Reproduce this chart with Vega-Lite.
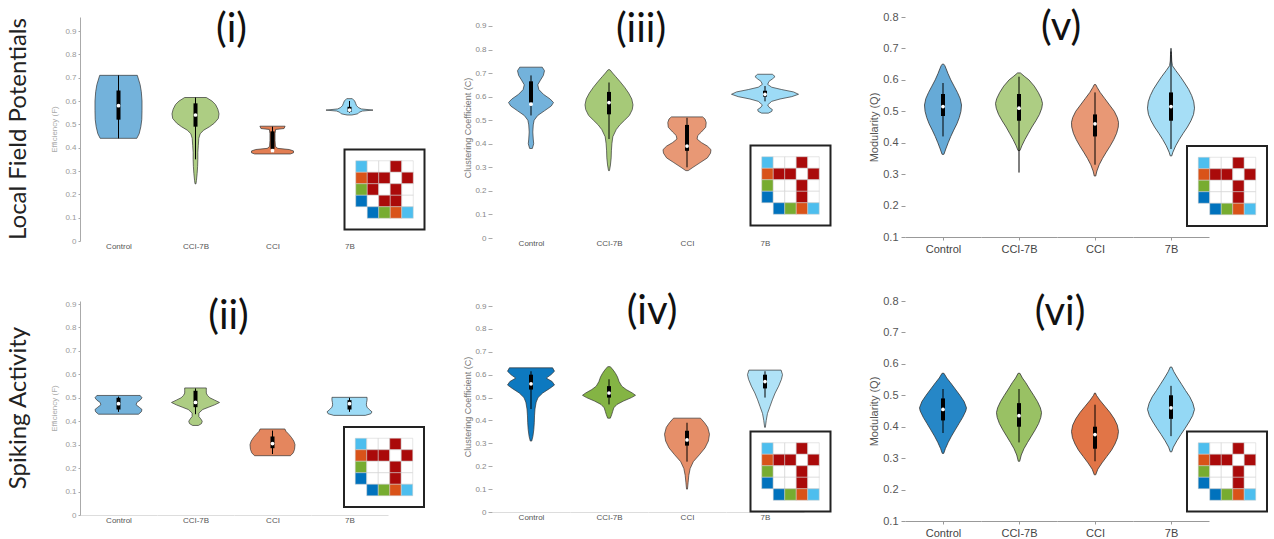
{
"$schema":"https://vega.github.io/schema/vega-lite/v6.json",
"background":"#ffffff",
"padding":{"left":6,"top":8,"right":4,"bottom":0},
"config":{"view":{"stroke":null},
 "axisX":{"labels":false,"ticks":false,"domain":false,"grid":false,"titleFontSize":8,"titleColor":"#555","titleFontWeight":"normal","titleFont":"Liberation Sans"},
 "axisY":{"grid":false,"labelOverlap":false,"titleFontWeight":"normal","titleFont":"Liberation Sans","labelFont":"Liberation Sans"}},
"datasets":{
"viol":[
{"p":"i","g":"Control","v":0.44,"d":0.78},{"p":"i","g":"Control","v":0.46,"d":0.88},{"p":"i","g":"Control","v":0.49,"d":0.95},{"p":"i","g":"Control","v":0.52,"d":0.99},{"p":"i","g":"Control","v":0.56,"d":1},{"p":"i","g":"Control","v":0.6,"d":1},{"p":"i","g":"Control","v":0.64,"d":0.97},{"p":"i","g":"Control","v":0.67,"d":0.92},{"p":"i","g":"Control","v":0.69,"d":0.86},{"p":"i","g":"Control","v":0.71,"d":0.8},
{"p":"i","g":"CCI-7B","v":0.245,"d":0.02},{"p":"i","g":"CCI-7B","v":0.26,"d":0.04},{"p":"i","g":"CCI-7B","v":0.29,"d":0.07},{"p":"i","g":"CCI-7B","v":0.32,"d":0.09},{"p":"i","g":"CCI-7B","v":0.35,"d":0.1},{"p":"i","g":"CCI-7B","v":0.38,"d":0.1},{"p":"i","g":"CCI-7B","v":0.41,"d":0.12},{"p":"i","g":"CCI-7B","v":0.44,"d":0.14},{"p":"i","g":"CCI-7B","v":0.46,"d":0.2},{"p":"i","g":"CCI-7B","v":0.475,"d":0.35},{"p":"i","g":"CCI-7B","v":0.49,"d":0.6},{"p":"i","g":"CCI-7B","v":0.505,"d":0.8},{"p":"i","g":"CCI-7B","v":0.525,"d":0.97},{"p":"i","g":"CCI-7B","v":0.545,"d":1},{"p":"i","g":"CCI-7B","v":0.565,"d":0.95},{"p":"i","g":"CCI-7B","v":0.585,"d":0.85},{"p":"i","g":"CCI-7B","v":0.6,"d":0.7},{"p":"i","g":"CCI-7B","v":0.615,"d":0.46},
{"p":"i","g":"CCI","v":0.373,"d":0.85},{"p":"i","g":"CCI","v":0.378,"d":1},{"p":"i","g":"CCI","v":0.386,"d":1},{"p":"i","g":"CCI","v":0.392,"d":0.8},{"p":"i","g":"CCI","v":0.397,"d":0.25},{"p":"i","g":"CCI","v":0.405,"d":0.14},{"p":"i","g":"CCI","v":0.43,"d":0.12},{"p":"i","g":"CCI","v":0.46,"d":0.12},{"p":"i","g":"CCI","v":0.478,"d":0.15},{"p":"i","g":"CCI","v":0.482,"d":0.55},{"p":"i","g":"CCI","v":0.492,"d":0.6},
{"p":"i","g":"7B","v":0.54,"d":0.1},{"p":"i","g":"7B","v":0.545,"d":0.35},{"p":"i","g":"7B","v":0.552,"d":0.42},{"p":"i","g":"7B","v":0.557,"d":0.55},{"p":"i","g":"7B","v":0.561,"d":1},{"p":"i","g":"7B","v":0.566,"d":0.5},{"p":"i","g":"7B","v":0.572,"d":0.38},{"p":"i","g":"7B","v":0.58,"d":0.3},{"p":"i","g":"7B","v":0.59,"d":0.26},{"p":"i","g":"7B","v":0.6,"d":0.22},{"p":"i","g":"7B","v":0.61,"d":0.12},
{"p":"ii","g":"Control","v":0.43,"d":0.85},{"p":"ii","g":"Control","v":0.44,"d":0.97},{"p":"ii","g":"Control","v":0.45,"d":1},{"p":"ii","g":"Control","v":0.46,"d":0.88},{"p":"ii","g":"Control","v":0.47,"d":0.75},{"p":"ii","g":"Control","v":0.48,"d":0.78},{"p":"ii","g":"Control","v":0.49,"d":0.92},{"p":"ii","g":"Control","v":0.5,"d":1},{"p":"ii","g":"Control","v":0.51,"d":0.92},
{"p":"ii","g":"CCI-7B","v":0.382,"d":0.12},{"p":"ii","g":"CCI-7B","v":0.39,"d":0.25},{"p":"ii","g":"CCI-7B","v":0.4,"d":0.28},{"p":"ii","g":"CCI-7B","v":0.41,"d":0.22},{"p":"ii","g":"CCI-7B","v":0.42,"d":0.14},{"p":"ii","g":"CCI-7B","v":0.435,"d":0.14},{"p":"ii","g":"CCI-7B","v":0.45,"d":0.3},{"p":"ii","g":"CCI-7B","v":0.46,"d":0.55},{"p":"ii","g":"CCI-7B","v":0.47,"d":0.8},{"p":"ii","g":"CCI-7B","v":0.48,"d":1},{"p":"ii","g":"CCI-7B","v":0.49,"d":0.8},{"p":"ii","g":"CCI-7B","v":0.5,"d":0.6},{"p":"ii","g":"CCI-7B","v":0.51,"d":0.5},{"p":"ii","g":"CCI-7B","v":0.52,"d":0.45},{"p":"ii","g":"CCI-7B","v":0.53,"d":0.45},{"p":"ii","g":"CCI-7B","v":0.542,"d":0.45},
{"p":"ii","g":"CCI","v":0.253,"d":0.8},{"p":"ii","g":"CCI","v":0.265,"d":0.92},{"p":"ii","g":"CCI","v":0.28,"d":0.98},{"p":"ii","g":"CCI","v":0.3,"d":1},{"p":"ii","g":"CCI","v":0.315,"d":0.95},{"p":"ii","g":"CCI","v":0.33,"d":0.85},{"p":"ii","g":"CCI","v":0.345,"d":0.72},{"p":"ii","g":"CCI","v":0.357,"d":0.6},{"p":"ii","g":"CCI","v":0.367,"d":0.55},
{"p":"ii","g":"7B","v":0.425,"d":0.7},{"p":"ii","g":"7B","v":0.432,"d":0.95},{"p":"ii","g":"7B","v":0.44,"d":1},{"p":"ii","g":"7B","v":0.45,"d":0.88},{"p":"ii","g":"7B","v":0.46,"d":0.78},{"p":"ii","g":"7B","v":0.47,"d":0.75},{"p":"ii","g":"7B","v":0.48,"d":0.76},{"p":"ii","g":"7B","v":0.49,"d":0.78},{"p":"ii","g":"7B","v":0.502,"d":0.78},
{"p":"iii","g":"Control","v":0.38,"d":0.06},{"p":"iii","g":"Control","v":0.4,"d":0.12},{"p":"iii","g":"Control","v":0.42,"d":0.1},{"p":"iii","g":"Control","v":0.45,"d":0.08},{"p":"iii","g":"Control","v":0.48,"d":0.1},{"p":"iii","g":"Control","v":0.5,"d":0.14},{"p":"iii","g":"Control","v":0.52,"d":0.3},{"p":"iii","g":"Control","v":0.54,"d":0.6},{"p":"iii","g":"Control","v":0.56,"d":0.9},{"p":"iii","g":"Control","v":0.575,"d":1},{"p":"iii","g":"Control","v":0.59,"d":0.85},{"p":"iii","g":"Control","v":0.61,"d":0.55},{"p":"iii","g":"Control","v":0.63,"d":0.35},{"p":"iii","g":"Control","v":0.65,"d":0.3},{"p":"iii","g":"Control","v":0.67,"d":0.42},{"p":"iii","g":"Control","v":0.69,"d":0.55},{"p":"iii","g":"Control","v":0.71,"d":0.6},{"p":"iii","g":"Control","v":0.725,"d":0.5},
{"p":"iii","g":"CCI-7B","v":0.286,"d":0.02},{"p":"iii","g":"CCI-7B","v":0.31,"d":0.06},{"p":"iii","g":"CCI-7B","v":0.34,"d":0.09},{"p":"iii","g":"CCI-7B","v":0.37,"d":0.1},{"p":"iii","g":"CCI-7B","v":0.4,"d":0.12},{"p":"iii","g":"CCI-7B","v":0.43,"d":0.16},{"p":"iii","g":"CCI-7B","v":0.46,"d":0.3},{"p":"iii","g":"CCI-7B","v":0.48,"d":0.45},{"p":"iii","g":"CCI-7B","v":0.5,"d":0.65},{"p":"iii","g":"CCI-7B","v":0.52,"d":0.85},{"p":"iii","g":"CCI-7B","v":0.545,"d":0.97},{"p":"iii","g":"CCI-7B","v":0.565,"d":1},{"p":"iii","g":"CCI-7B","v":0.59,"d":0.95},{"p":"iii","g":"CCI-7B","v":0.615,"d":0.82},{"p":"iii","g":"CCI-7B","v":0.64,"d":0.65},{"p":"iii","g":"CCI-7B","v":0.665,"d":0.45},{"p":"iii","g":"CCI-7B","v":0.685,"d":0.28},{"p":"iii","g":"CCI-7B","v":0.7,"d":0.15},{"p":"iii","g":"CCI-7B","v":0.714,"d":0.04},
{"p":"iii","g":"CCI","v":0.286,"d":0.05},{"p":"iii","g":"CCI","v":0.3,"d":0.25},{"p":"iii","g":"CCI","v":0.32,"d":0.55},{"p":"iii","g":"CCI","v":0.34,"d":0.85},{"p":"iii","g":"CCI","v":0.36,"d":0.98},{"p":"iii","g":"CCI","v":0.375,"d":1},{"p":"iii","g":"CCI","v":0.39,"d":0.85},{"p":"iii","g":"CCI","v":0.405,"d":0.6},{"p":"iii","g":"CCI","v":0.42,"d":0.42},{"p":"iii","g":"CCI","v":0.435,"d":0.45},{"p":"iii","g":"CCI","v":0.45,"d":0.6},{"p":"iii","g":"CCI","v":0.47,"d":0.78},{"p":"iii","g":"CCI","v":0.49,"d":0.8},{"p":"iii","g":"CCI","v":0.505,"d":0.75},{"p":"iii","g":"CCI","v":0.514,"d":0.65},
{"p":"iii","g":"7B","v":0.53,"d":0.1},{"p":"iii","g":"7B","v":0.537,"d":0.2},{"p":"iii","g":"7B","v":0.545,"d":0.22},{"p":"iii","g":"7B","v":0.555,"d":0.12},{"p":"iii","g":"7B","v":0.565,"d":0.08},{"p":"iii","g":"7B","v":0.58,"d":0.2},{"p":"iii","g":"7B","v":0.59,"d":0.45},{"p":"iii","g":"7B","v":0.6,"d":0.8},{"p":"iii","g":"7B","v":0.61,"d":1},{"p":"iii","g":"7B","v":0.62,"d":0.85},{"p":"iii","g":"7B","v":0.63,"d":0.5},{"p":"iii","g":"7B","v":0.64,"d":0.2},{"p":"iii","g":"7B","v":0.652,"d":0.08},{"p":"iii","g":"7B","v":0.665,"d":0.12},{"p":"iii","g":"7B","v":0.675,"d":0.22},{"p":"iii","g":"7B","v":0.685,"d":0.3},{"p":"iii","g":"7B","v":0.695,"d":0.22},
{"p":"iv","g":"Control","v":0.31,"d":0.03},{"p":"iv","g":"Control","v":0.33,"d":0.08},{"p":"iv","g":"Control","v":0.36,"d":0.12},{"p":"iv","g":"Control","v":0.39,"d":0.14},{"p":"iv","g":"Control","v":0.42,"d":0.15},{"p":"iv","g":"Control","v":0.45,"d":0.17},{"p":"iv","g":"Control","v":0.48,"d":0.22},{"p":"iv","g":"Control","v":0.5,"d":0.3},{"p":"iv","g":"Control","v":0.52,"d":0.5},{"p":"iv","g":"Control","v":0.54,"d":0.8},{"p":"iv","g":"Control","v":0.555,"d":1},{"p":"iv","g":"Control","v":0.57,"d":0.9},{"p":"iv","g":"Control","v":0.585,"d":0.65},{"p":"iv","g":"Control","v":0.6,"d":0.85},{"p":"iv","g":"Control","v":0.615,"d":1},{"p":"iv","g":"Control","v":0.63,"d":0.92},
{"p":"iv","g":"CCI-7B","v":0.41,"d":0.05},{"p":"iv","g":"CCI-7B","v":0.425,"d":0.1},{"p":"iv","g":"CCI-7B","v":0.44,"d":0.14},{"p":"iv","g":"CCI-7B","v":0.455,"d":0.18},{"p":"iv","g":"CCI-7B","v":0.47,"d":0.3},{"p":"iv","g":"CCI-7B","v":0.485,"d":0.55},{"p":"iv","g":"CCI-7B","v":0.5,"d":0.85},{"p":"iv","g":"CCI-7B","v":0.51,"d":1},{"p":"iv","g":"CCI-7B","v":0.52,"d":0.88},{"p":"iv","g":"CCI-7B","v":0.535,"d":0.65},{"p":"iv","g":"CCI-7B","v":0.55,"d":0.48},{"p":"iv","g":"CCI-7B","v":0.57,"d":0.38},{"p":"iv","g":"CCI-7B","v":0.59,"d":0.32},{"p":"iv","g":"CCI-7B","v":0.605,"d":0.25},{"p":"iv","g":"CCI-7B","v":0.62,"d":0.16},{"p":"iv","g":"CCI-7B","v":0.635,"d":0.05},
{"p":"iv","g":"CCI","v":0.1,"d":0.02},{"p":"iv","g":"CCI","v":0.13,"d":0.05},{"p":"iv","g":"CCI","v":0.16,"d":0.08},{"p":"iv","g":"CCI","v":0.19,"d":0.14},{"p":"iv","g":"CCI","v":0.22,"d":0.28},{"p":"iv","g":"CCI","v":0.25,"d":0.55},{"p":"iv","g":"CCI","v":0.28,"d":0.8},{"p":"iv","g":"CCI","v":0.31,"d":0.95},{"p":"iv","g":"CCI","v":0.34,"d":1},{"p":"iv","g":"CCI","v":0.37,"d":0.92},{"p":"iv","g":"CCI","v":0.39,"d":0.78},{"p":"iv","g":"CCI","v":0.41,"d":0.6},
{"p":"iv","g":"7B","v":0.37,"d":0.02},{"p":"iv","g":"7B","v":0.4,"d":0.07},{"p":"iv","g":"7B","v":0.43,"d":0.14},{"p":"iv","g":"7B","v":0.46,"d":0.28},{"p":"iv","g":"7B","v":0.49,"d":0.42},{"p":"iv","g":"7B","v":0.52,"d":0.58},{"p":"iv","g":"7B","v":0.55,"d":0.78},{"p":"iv","g":"7B","v":0.58,"d":0.94},{"p":"iv","g":"7B","v":0.6,"d":1},{"p":"iv","g":"7B","v":0.62,"d":0.92},
{"p":"v","g":"Control","v":0.363,"d":0.05},{"p":"v","g":"Control","v":0.38,"d":0.15},{"p":"v","g":"Control","v":0.4,"d":0.28},{"p":"v","g":"Control","v":0.42,"d":0.42},{"p":"v","g":"Control","v":0.44,"d":0.58},{"p":"v","g":"Control","v":0.46,"d":0.75},{"p":"v","g":"Control","v":0.48,"d":0.88},{"p":"v","g":"Control","v":0.5,"d":0.97},{"p":"v","g":"Control","v":0.52,"d":1},{"p":"v","g":"Control","v":0.54,"d":0.93},{"p":"v","g":"Control","v":0.56,"d":0.78},{"p":"v","g":"Control","v":0.58,"d":0.6},{"p":"v","g":"Control","v":0.6,"d":0.42},{"p":"v","g":"Control","v":0.62,"d":0.27},{"p":"v","g":"Control","v":0.635,"d":0.17},{"p":"v","g":"Control","v":0.645,"d":0.1},{"p":"v","g":"Control","v":0.65,"d":0.04},
{"p":"v","g":"CCI-7B","v":0.375,"d":0.04},{"p":"v","g":"CCI-7B","v":0.39,"d":0.12},{"p":"v","g":"CCI-7B","v":0.41,"d":0.25},{"p":"v","g":"CCI-7B","v":0.43,"d":0.4},{"p":"v","g":"CCI-7B","v":0.45,"d":0.55},{"p":"v","g":"CCI-7B","v":0.47,"d":0.72},{"p":"v","g":"CCI-7B","v":0.49,"d":0.87},{"p":"v","g":"CCI-7B","v":0.51,"d":0.97},{"p":"v","g":"CCI-7B","v":0.525,"d":1},{"p":"v","g":"CCI-7B","v":0.54,"d":0.95},{"p":"v","g":"CCI-7B","v":0.56,"d":0.82},{"p":"v","g":"CCI-7B","v":0.58,"d":0.65},{"p":"v","g":"CCI-7B","v":0.6,"d":0.42},{"p":"v","g":"CCI-7B","v":0.61,"d":0.25},{"p":"v","g":"CCI-7B","v":0.622,"d":0.06},
{"p":"v","g":"CCI","v":0.294,"d":0.03},{"p":"v","g":"CCI","v":0.31,"d":0.08},{"p":"v","g":"CCI","v":0.33,"d":0.18},{"p":"v","g":"CCI","v":0.35,"d":0.32},{"p":"v","g":"CCI","v":0.37,"d":0.48},{"p":"v","g":"CCI","v":0.39,"d":0.65},{"p":"v","g":"CCI","v":0.41,"d":0.8},{"p":"v","g":"CCI","v":0.43,"d":0.92},{"p":"v","g":"CCI","v":0.45,"d":0.99},{"p":"v","g":"CCI","v":0.465,"d":1},{"p":"v","g":"CCI","v":0.48,"d":0.95},{"p":"v","g":"CCI","v":0.5,"d":0.82},{"p":"v","g":"CCI","v":0.52,"d":0.62},{"p":"v","g":"CCI","v":0.54,"d":0.42},{"p":"v","g":"CCI","v":0.56,"d":0.22},{"p":"v","g":"CCI","v":0.575,"d":0.1},{"p":"v","g":"CCI","v":0.585,"d":0.03},
{"p":"v","g":"7B","v":0.358,"d":0.03},{"p":"v","g":"7B","v":0.37,"d":0.08},{"p":"v","g":"7B","v":0.39,"d":0.2},{"p":"v","g":"7B","v":0.41,"d":0.35},{"p":"v","g":"7B","v":0.43,"d":0.52},{"p":"v","g":"7B","v":0.45,"d":0.7},{"p":"v","g":"7B","v":0.47,"d":0.85},{"p":"v","g":"7B","v":0.49,"d":0.96},{"p":"v","g":"7B","v":0.51,"d":1},{"p":"v","g":"7B","v":0.53,"d":0.97},{"p":"v","g":"7B","v":0.55,"d":0.88},{"p":"v","g":"7B","v":0.57,"d":0.75},{"p":"v","g":"7B","v":0.59,"d":0.58},{"p":"v","g":"7B","v":0.61,"d":0.4},{"p":"v","g":"7B","v":0.63,"d":0.2},{"p":"v","g":"7B","v":0.645,"d":0.06},{"p":"v","g":"7B","v":0.66,"d":0.03},{"p":"v","g":"7B","v":0.68,"d":0.02},{"p":"v","g":"7B","v":0.7,"d":0.01},
{"p":"vi","g":"Control","v":0.315,"d":0.03},{"p":"vi","g":"Control","v":0.33,"d":0.1},{"p":"vi","g":"Control","v":0.35,"d":0.22},{"p":"vi","g":"Control","v":0.37,"d":0.36},{"p":"vi","g":"Control","v":0.39,"d":0.52},{"p":"vi","g":"Control","v":0.41,"d":0.68},{"p":"vi","g":"Control","v":0.43,"d":0.84},{"p":"vi","g":"Control","v":0.45,"d":0.97},{"p":"vi","g":"Control","v":0.46,"d":1},{"p":"vi","g":"Control","v":0.48,"d":0.9},{"p":"vi","g":"Control","v":0.5,"d":0.72},{"p":"vi","g":"Control","v":0.52,"d":0.52},{"p":"vi","g":"Control","v":0.54,"d":0.32},{"p":"vi","g":"Control","v":0.555,"d":0.16},{"p":"vi","g":"Control","v":0.57,"d":0.04},
{"p":"vi","g":"CCI-7B","v":0.29,"d":0.03},{"p":"vi","g":"CCI-7B","v":0.31,"d":0.1},{"p":"vi","g":"CCI-7B","v":0.33,"d":0.22},{"p":"vi","g":"CCI-7B","v":0.35,"d":0.38},{"p":"vi","g":"CCI-7B","v":0.37,"d":0.55},{"p":"vi","g":"CCI-7B","v":0.39,"d":0.72},{"p":"vi","g":"CCI-7B","v":0.41,"d":0.87},{"p":"vi","g":"CCI-7B","v":0.43,"d":0.97},{"p":"vi","g":"CCI-7B","v":0.445,"d":1},{"p":"vi","g":"CCI-7B","v":0.46,"d":0.95},{"p":"vi","g":"CCI-7B","v":0.48,"d":0.82},{"p":"vi","g":"CCI-7B","v":0.5,"d":0.65},{"p":"vi","g":"CCI-7B","v":0.52,"d":0.47},{"p":"vi","g":"CCI-7B","v":0.54,"d":0.3},{"p":"vi","g":"CCI-7B","v":0.555,"d":0.15},{"p":"vi","g":"CCI-7B","v":0.57,"d":0.04},
{"p":"vi","g":"CCI","v":0.247,"d":0.03},{"p":"vi","g":"CCI","v":0.265,"d":0.12},{"p":"vi","g":"CCI","v":0.285,"d":0.3},{"p":"vi","g":"CCI","v":0.305,"d":0.5},{"p":"vi","g":"CCI","v":0.325,"d":0.7},{"p":"vi","g":"CCI","v":0.345,"d":0.85},{"p":"vi","g":"CCI","v":0.365,"d":0.96},{"p":"vi","g":"CCI","v":0.385,"d":1},{"p":"vi","g":"CCI","v":0.405,"d":0.95},{"p":"vi","g":"CCI","v":0.425,"d":0.82},{"p":"vi","g":"CCI","v":0.445,"d":0.64},{"p":"vi","g":"CCI","v":0.465,"d":0.42},{"p":"vi","g":"CCI","v":0.485,"d":0.2},{"p":"vi","g":"CCI","v":0.5,"d":0.06},{"p":"vi","g":"CCI","v":0.507,"d":0.02},
{"p":"vi","g":"7B","v":0.32,"d":0.03},{"p":"vi","g":"7B","v":0.335,"d":0.1},{"p":"vi","g":"7B","v":0.355,"d":0.25},{"p":"vi","g":"7B","v":0.375,"d":0.42},{"p":"vi","g":"7B","v":0.395,"d":0.6},{"p":"vi","g":"7B","v":0.415,"d":0.77},{"p":"vi","g":"7B","v":0.435,"d":0.92},{"p":"vi","g":"7B","v":0.455,"d":1},{"p":"vi","g":"7B","v":0.475,"d":0.93},{"p":"vi","g":"7B","v":0.495,"d":0.8},{"p":"vi","g":"7B","v":0.515,"d":0.62},{"p":"vi","g":"7B","v":0.535,"d":0.45},{"p":"vi","g":"7B","v":0.555,"d":0.28},{"p":"vi","g":"7B","v":0.575,"d":0.12},{"p":"vi","g":"7B","v":0.59,"d":0.03}
],
"stat":[
{"p":"i","g":"Control","lo":0.44,"q1":0.52,"md":0.58,"q3":0.645,"hi":0.71},
{"p":"i","g":"CCI-7B","lo":0.35,"q1":0.49,"md":0.54,"q3":0.59,"hi":0.615},
{"p":"i","g":"CCI","lo":0.38,"q1":0.395,"md":0.387,"q3":0.47,"hi":0.49},
{"p":"i","g":"7B","lo":0.55,"q1":0.553,"md":0.561,"q3":0.575,"hi":0.6},
{"p":"ii","g":"Control","lo":0.44,"q1":0.45,"md":0.475,"q3":0.5,"hi":0.505},
{"p":"ii","g":"CCI-7B","lo":0.43,"q1":0.46,"md":0.48,"q3":0.53,"hi":0.54},
{"p":"ii","g":"CCI","lo":0.26,"q1":0.285,"md":0.305,"q3":0.335,"hi":0.36},
{"p":"ii","g":"7B","lo":0.44,"q1":0.45,"md":0.475,"q3":0.49,"hi":0.5},
{"p":"iii","g":"Control","lo":0.52,"q1":0.575,"md":0.568,"q3":0.665,"hi":0.69},
{"p":"iii","g":"CCI-7B","lo":0.42,"q1":0.525,"md":0.575,"q3":0.62,"hi":0.66},
{"p":"iii","g":"CCI","lo":0.3,"q1":0.37,"md":0.39,"q3":0.48,"hi":0.51},
{"p":"iii","g":"7B","lo":0.58,"q1":0.6,"md":0.61,"q3":0.625,"hi":0.645},
{"p":"iv","g":"Control","lo":0.45,"q1":0.535,"md":0.56,"q3":0.6,"hi":0.615},
{"p":"iv","g":"CCI-7B","lo":0.47,"q1":0.5,"md":0.52,"q3":0.55,"hi":0.58},
{"p":"iv","g":"CCI","lo":0.22,"q1":0.29,"md":0.315,"q3":0.355,"hi":0.39},
{"p":"iv","g":"7B","lo":0.5,"q1":0.54,"md":0.57,"q3":0.6,"hi":0.615},
{"p":"v","g":"Control","lo":0.42,"q1":0.485,"md":0.515,"q3":0.555,"hi":0.59},
{"p":"v","g":"CCI-7B","lo":0.305,"q1":0.47,"md":0.51,"q3":0.555,"hi":0.61},
{"p":"v","g":"CCI","lo":0.33,"q1":0.42,"md":0.46,"q3":0.49,"hi":0.56},
{"p":"v","g":"7B","lo":0.38,"q1":0.47,"md":0.515,"q3":0.56,"hi":0.69},
{"p":"vi","g":"Control","lo":0.38,"q1":0.42,"md":0.455,"q3":0.49,"hi":0.52},
{"p":"vi","g":"CCI-7B","lo":0.35,"q1":0.4,"md":0.435,"q3":0.475,"hi":0.52},
{"p":"vi","g":"CCI","lo":0.29,"q1":0.33,"md":0.375,"q3":0.4,"hi":0.47},
{"p":"vi","g":"7B","lo":0.37,"q1":0.425,"md":0.46,"q3":0.5,"hi":0.53}
],
"grid":[
{"pat":"A","r":0,"c":0,"t":"7B"},{"pat":"A","r":0,"c":1,"t":"ns"},{"pat":"A","r":0,"c":2,"t":"ns"},{"pat":"A","r":0,"c":3,"t":"sig"},{"pat":"A","r":0,"c":4,"t":"ns"},
{"pat":"A","r":1,"c":0,"t":"CCI"},{"pat":"A","r":1,"c":1,"t":"sig"},{"pat":"A","r":1,"c":2,"t":"sig"},{"pat":"A","r":1,"c":3,"t":"ns"},{"pat":"A","r":1,"c":4,"t":"sig"},
{"pat":"A","r":2,"c":0,"t":"CCI-7B"},{"pat":"A","r":2,"c":1,"t":"ns"},{"pat":"A","r":2,"c":2,"t":"ns"},{"pat":"A","r":2,"c":3,"t":"sig"},{"pat":"A","r":2,"c":4,"t":"ns"},
{"pat":"A","r":3,"c":0,"t":"Control"},{"pat":"A","r":3,"c":1,"t":"ns"},{"pat":"A","r":3,"c":2,"t":"ns"},{"pat":"A","r":3,"c":3,"t":"sig"},{"pat":"A","r":3,"c":4,"t":"ns"},
{"pat":"A","r":4,"c":1,"t":"Control"},{"pat":"A","r":4,"c":2,"t":"CCI-7B"},{"pat":"A","r":4,"c":3,"t":"CCI"},{"pat":"A","r":4,"c":4,"t":"7B"},
{"pat":"B","r":0,"c":0,"t":"7B"},{"pat":"B","r":0,"c":1,"t":"ns"},{"pat":"B","r":0,"c":2,"t":"ns"},{"pat":"B","r":0,"c":3,"t":"sig"},{"pat":"B","r":0,"c":4,"t":"ns"},
{"pat":"B","r":1,"c":0,"t":"CCI"},{"pat":"B","r":1,"c":1,"t":"sig"},{"pat":"B","r":1,"c":2,"t":"sig"},{"pat":"B","r":1,"c":3,"t":"ns"},{"pat":"B","r":1,"c":4,"t":"sig"},
{"pat":"B","r":2,"c":0,"t":"CCI-7B"},{"pat":"B","r":2,"c":1,"t":"sig"},{"pat":"B","r":2,"c":2,"t":"ns"},{"pat":"B","r":2,"c":3,"t":"sig"},{"pat":"B","r":2,"c":4,"t":"ns"},
{"pat":"B","r":3,"c":0,"t":"Control"},{"pat":"B","r":3,"c":1,"t":"ns"},{"pat":"B","r":3,"c":2,"t":"sig"},{"pat":"B","r":3,"c":3,"t":"sig"},{"pat":"B","r":3,"c":4,"t":"ns"},
{"pat":"B","r":4,"c":1,"t":"Control"},{"pat":"B","r":4,"c":2,"t":"CCI-7B"},{"pat":"B","r":4,"c":3,"t":"CCI"},{"pat":"B","r":4,"c":4,"t":"7B"}
]
},
"columns":14,
"spacing":{"row":60,"column":0},
"bounds":"flush",
"align":"each",
"concat":[
{"width":77,"height":224,
 "title":{"text":"Local Field Potentials","orient":"left","anchor":"middle","fontSize":24,"font":"Lato","fontWeight":"normal","color":"#222","offset":20},
 "layer":[
 {"data":{"name":"viol"},"transform":[{"filter":"datum.p=='i'&&datum.g=='Control'"}],"mark":{"type":"area","orient":"horizontal","color":"#0072BD","fillOpacity":0.55,"stroke":"#333","strokeWidth":0.7},
  "encoding":{"y":{"field":"v","type":"quantitative","scale":{"domain":[0,0.96],"nice":false,"zero":false},"axis":{"values":[0,0.1,0.2,0.3,0.4,0.5,0.6,0.7,0.8,0.9],"tickCount":20,"labelOverlap":false,"format":"~g","title":"Efficiency (F)","titleFontSize":8,"titleColor":"#aaa","titlePadding":6,"labelFontSize":8,"labelColor":"#999","domain":true,"domainColor":"#aaa","ticks":true,"tickSize":2,"tickColor":"#aaa","labelPadding":2}},
  "x":{"field":"d","type":"quantitative","stack":"center","scale":{"domain":[-0.319,1.319],"nice":false,"zero":false},"axis":{"title":"Control","titlePadding":1}},"detail":{"field":"g"}}},
 {"data":{"name":"stat"},"transform":[{"filter":"datum.p=='i'&&datum.g=='Control'"}],"mark":{"type":"rule","color":"#000","strokeWidth":1},"encoding":{"y":{"field":"lo","type":"quantitative","scale":{"domain":[0,0.96],"nice":false,"zero":false}},"y2":{"field":"hi"}}},
 {"data":{"name":"stat"},"transform":[{"filter":"datum.p=='i'&&datum.g=='Control'"}],"mark":{"type":"rule","color":"#000","strokeWidth":4},"encoding":{"y":{"field":"q1","type":"quantitative","scale":{"domain":[0,0.96],"nice":false,"zero":false}},"y2":{"field":"q3"}}},
 {"data":{"name":"stat"},"transform":[{"filter":"datum.p=='i'&&datum.g=='Control'"}],"mark":{"type":"point","filled":true,"color":"#fff","opacity":1,"size":14},"encoding":{"y":{"field":"md","type":"quantitative","scale":{"domain":[0,0.96],"nice":false,"zero":false}}}}
 ]},
{"width":77,"height":224,
 "title":{"text":"(i)","orient":"top","anchor":"middle","frame":"group","dx":36,"offset":-53,"baseline":"middle","fontSize":40,"font":"Lato","fontWeight":"normal","color":"#111"},
 "layer":[
 {"data":{"name":"viol"},"transform":[{"filter":"datum.p=='i'&&datum.g=='CCI-7B'"}],"mark":{"type":"area","orient":"horizontal","color":"#77AC30","fillOpacity":0.6,"stroke":"#333","strokeWidth":0.7},
  "encoding":{"y":{"field":"v","type":"quantitative","scale":{"domain":[0,0.96],"nice":false,"zero":false},"axis":null},
  "x":{"field":"d","type":"quantitative","stack":"center","scale":{"domain":[-0.319,1.319],"nice":false,"zero":false},"axis":{"title":"CCI-7B","titlePadding":1}},"detail":{"field":"g"}}},
 {"data":{"name":"stat"},"transform":[{"filter":"datum.p=='i'&&datum.g=='CCI-7B'"}],"mark":{"type":"rule","color":"#000","strokeWidth":1},"encoding":{"y":{"field":"lo","type":"quantitative","scale":{"domain":[0,0.96],"nice":false,"zero":false},"axis":null},"y2":{"field":"hi"}}},
 {"data":{"name":"stat"},"transform":[{"filter":"datum.p=='i'&&datum.g=='CCI-7B'"}],"mark":{"type":"rule","color":"#000","strokeWidth":4},"encoding":{"y":{"field":"q1","type":"quantitative","scale":{"domain":[0,0.96],"nice":false,"zero":false},"axis":null},"y2":{"field":"q3"}}},
 {"data":{"name":"stat"},"transform":[{"filter":"datum.p=='i'&&datum.g=='CCI-7B'"}],"mark":{"type":"point","filled":true,"color":"#fff","opacity":1,"size":14},"encoding":{"y":{"field":"md","type":"quantitative","scale":{"domain":[0,0.96],"nice":false,"zero":false},"axis":null}}}
 ]},
{"width":77,"height":224,
 "layer":[
 {"data":{"name":"viol"},"transform":[{"filter":"datum.p=='i'&&datum.g=='CCI'"}],"mark":{"type":"area","orient":"horizontal","color":"#D95319","fillOpacity":0.75,"stroke":"#333","strokeWidth":0.7},
  "encoding":{"y":{"field":"v","type":"quantitative","scale":{"domain":[0,0.96],"nice":false,"zero":false},"axis":null},
  "x":{"field":"d","type":"quantitative","stack":"center","scale":{"domain":[-0.417,1.417],"nice":false,"zero":false},"axis":{"title":"CCI","titlePadding":1}},"detail":{"field":"g"}}},
 {"data":{"name":"stat"},"transform":[{"filter":"datum.p=='i'&&datum.g=='CCI'"}],"mark":{"type":"rule","color":"#000","strokeWidth":1},"encoding":{"y":{"field":"lo","type":"quantitative","scale":{"domain":[0,0.96],"nice":false,"zero":false},"axis":null},"y2":{"field":"hi"}}},
 {"data":{"name":"stat"},"transform":[{"filter":"datum.p=='i'&&datum.g=='CCI'"}],"mark":{"type":"rule","color":"#000","strokeWidth":4},"encoding":{"y":{"field":"q1","type":"quantitative","scale":{"domain":[0,0.96],"nice":false,"zero":false},"axis":null},"y2":{"field":"q3"}}},
 {"data":{"name":"stat"},"transform":[{"filter":"datum.p=='i'&&datum.g=='CCI'"}],"mark":{"type":"point","filled":true,"color":"#fff","opacity":1,"size":14},"encoding":{"y":{"field":"md","type":"quantitative","scale":{"domain":[0,0.96],"nice":false,"zero":false},"axis":null}}}
 ]},
{"width":77,"height":224,
 "resolve":{"scale":{"x":"independent","y":"independent"}},
 "layer":[
 {"layer":[
 {"data":{"name":"viol"},"transform":[{"filter":"datum.p=='i'&&datum.g=='7B'"}],"mark":{"type":"area","orient":"horizontal","color":"#4DBEEE","fillOpacity":0.6,"stroke":"#333","strokeWidth":0.7},
  "encoding":{"y":{"field":"v","type":"quantitative","scale":{"domain":[0,0.96],"nice":false,"zero":false},"axis":null},
  "x":{"field":"d","type":"quantitative","stack":"center","scale":{"domain":[-0.319,1.319],"nice":false,"zero":false},"axis":{"title":"7B","titlePadding":1}},"detail":{"field":"g"}}},
 {"data":{"name":"stat"},"transform":[{"filter":"datum.p=='i'&&datum.g=='7B'"}],"mark":{"type":"rule","color":"#000","strokeWidth":1},"encoding":{"y":{"field":"lo","type":"quantitative","scale":{"domain":[0,0.96],"nice":false,"zero":false},"axis":null},"y2":{"field":"hi"}}},
 {"data":{"name":"stat"},"transform":[{"filter":"datum.p=='i'&&datum.g=='7B'"}],"mark":{"type":"rule","color":"#000","strokeWidth":4},"encoding":{"y":{"field":"q1","type":"quantitative","scale":{"domain":[0,0.96],"nice":false,"zero":false},"axis":null},"y2":{"field":"q3"}}},
 {"data":{"name":"stat"},"transform":[{"filter":"datum.p=='i'&&datum.g=='7B'"}],"mark":{"type":"point","filled":true,"color":"#fff","opacity":1,"size":14},"encoding":{"y":{"field":"md","type":"quantitative","scale":{"domain":[0,0.96],"nice":false,"zero":false},"axis":null}}}
 ]},
 {"layer":[
 {"data":{"values":[{}]},"mark":{"type":"square","size":6400,"fill":"#fff","stroke":"#222","strokeWidth":2,"opacity":1},"encoding":{"x":{"datum":2,"type":"quantitative","scale":{"domain":[-4.391,2.304],"nice":false,"zero":false},"axis":null},"y":{"datum":2,"type":"quantitative","scale":{"domain":[-13,6.478],"nice":false,"zero":false,"reverse":true},"axis":null}}},
 {"data":{"name":"grid"},"transform":[{"filter":"datum.pat=='B'"}],"mark":{"type":"square","size":132,"opacity":1,"stroke":"#cccccc","strokeWidth":0.5},"encoding":{"x":{"field":"c","type":"quantitative","scale":{"domain":[-4.391,2.304],"nice":false,"zero":false},"axis":null},"y":{"field":"r","type":"quantitative","scale":{"domain":[-13,6.478],"nice":false,"zero":false,"reverse":true},"axis":null},"color":{"field":"t","type":"nominal","scale":{"domain":["Control","CCI-7B","CCI","7B","sig","ns"],"range":["#0072BD","#77AC30","#D95319","#4DBEEE","#AA0A0A","#ffffff"]},"legend":null}}}
 ]}
 ]},
{"width":104,"height":10,"mark":{"type":"rule","opacity":0},"encoding":{}},
{"width":78,"height":221,
 "layer":[
 {"data":{"name":"viol"},"transform":[{"filter":"datum.p=='iii'&&datum.g=='Control'"}],"mark":{"type":"area","orient":"horizontal","color":"#0072BD","fillOpacity":0.55,"stroke":"#333","strokeWidth":0.7},
  "encoding":{"y":{"field":"v","type":"quantitative","scale":{"domain":[0,0.938],"nice":false,"zero":false},"axis":{"values":[0,0.1,0.2,0.3,0.4,0.5,0.6,0.7,0.8,0.9],"tickCount":20,"labelOverlap":false,"format":"~g","title":"Clustering Coefficient (C)","titleFontSize":9,"titleColor":"#777","titlePadding":2,"labelFontSize":8,"labelColor":"#888","domain":false,"ticks":true,"tickSize":4,"tickColor":"#aaa","labelPadding":2}},
  "x":{"field":"d","type":"quantitative","stack":"center","scale":{"domain":[-0.367,1.367],"nice":false,"zero":false},"axis":{"title":"Control","titlePadding":1}},"detail":{"field":"g"}}},
 {"data":{"name":"stat"},"transform":[{"filter":"datum.p=='iii'&&datum.g=='Control'"}],"mark":{"type":"rule","color":"#000","strokeWidth":1},"encoding":{"y":{"field":"lo","type":"quantitative","scale":{"domain":[0,0.938],"nice":false,"zero":false}},"y2":{"field":"hi"}}},
 {"data":{"name":"stat"},"transform":[{"filter":"datum.p=='iii'&&datum.g=='Control'"}],"mark":{"type":"rule","color":"#000","strokeWidth":4},"encoding":{"y":{"field":"q1","type":"quantitative","scale":{"domain":[0,0.938],"nice":false,"zero":false}},"y2":{"field":"q3"}}},
 {"data":{"name":"stat"},"transform":[{"filter":"datum.p=='iii'&&datum.g=='Control'"}],"mark":{"type":"point","filled":true,"color":"#fff","opacity":1,"size":14},"encoding":{"y":{"field":"md","type":"quantitative","scale":{"domain":[0,0.938],"nice":false,"zero":false}}}}
 ]},
{"width":78,"height":221,
 "title":{"text":"(iii)","orient":"top","anchor":"middle","frame":"group","dx":32,"offset":-53,"baseline":"middle","fontSize":40,"font":"Lato","fontWeight":"normal","color":"#111"},
 "layer":[
 {"data":{"name":"viol"},"transform":[{"filter":"datum.p=='iii'&&datum.g=='CCI-7B'"}],"mark":{"type":"area","orient":"horizontal","color":"#77AC30","fillOpacity":0.65,"stroke":"#333","strokeWidth":0.7},
  "encoding":{"y":{"field":"v","type":"quantitative","scale":{"domain":[0,0.938],"nice":false,"zero":false},"axis":null},
  "x":{"field":"d","type":"quantitative","stack":"center","scale":{"domain":[-0.313,1.313],"nice":false,"zero":false},"axis":{"title":"CCI-7B","titlePadding":1}},"detail":{"field":"g"}}},
 {"data":{"name":"stat"},"transform":[{"filter":"datum.p=='iii'&&datum.g=='CCI-7B'"}],"mark":{"type":"rule","color":"#000","strokeWidth":1},"encoding":{"y":{"field":"lo","type":"quantitative","scale":{"domain":[0,0.938],"nice":false,"zero":false},"axis":null},"y2":{"field":"hi"}}},
 {"data":{"name":"stat"},"transform":[{"filter":"datum.p=='iii'&&datum.g=='CCI-7B'"}],"mark":{"type":"rule","color":"#000","strokeWidth":4},"encoding":{"y":{"field":"q1","type":"quantitative","scale":{"domain":[0,0.938],"nice":false,"zero":false},"axis":null},"y2":{"field":"q3"}}},
 {"data":{"name":"stat"},"transform":[{"filter":"datum.p=='iii'&&datum.g=='CCI-7B'"}],"mark":{"type":"point","filled":true,"color":"#fff","opacity":1,"size":14},"encoding":{"y":{"field":"md","type":"quantitative","scale":{"domain":[0,0.938],"nice":false,"zero":false},"axis":null}}}
 ]},
{"width":78,"height":221,
 "layer":[
 {"data":{"name":"viol"},"transform":[{"filter":"datum.p=='iii'&&datum.g=='CCI'"}],"mark":{"type":"area","orient":"horizontal","color":"#D95319","fillOpacity":0.6,"stroke":"#333","strokeWidth":0.7},
  "encoding":{"y":{"field":"v","type":"quantitative","scale":{"domain":[0,0.938],"nice":false,"zero":false},"axis":null},
  "x":{"field":"d","type":"quantitative","stack":"center","scale":{"domain":[-0.313,1.313],"nice":false,"zero":false},"axis":{"title":"CCI","titlePadding":1}},"detail":{"field":"g"}}},
 {"data":{"name":"stat"},"transform":[{"filter":"datum.p=='iii'&&datum.g=='CCI'"}],"mark":{"type":"rule","color":"#000","strokeWidth":1},"encoding":{"y":{"field":"lo","type":"quantitative","scale":{"domain":[0,0.938],"nice":false,"zero":false},"axis":null},"y2":{"field":"hi"}}},
 {"data":{"name":"stat"},"transform":[{"filter":"datum.p=='iii'&&datum.g=='CCI'"}],"mark":{"type":"rule","color":"#000","strokeWidth":4},"encoding":{"y":{"field":"q1","type":"quantitative","scale":{"domain":[0,0.938],"nice":false,"zero":false},"axis":null},"y2":{"field":"q3"}}},
 {"data":{"name":"stat"},"transform":[{"filter":"datum.p=='iii'&&datum.g=='CCI'"}],"mark":{"type":"point","filled":true,"color":"#fff","opacity":1,"size":14},"encoding":{"y":{"field":"md","type":"quantitative","scale":{"domain":[0,0.938],"nice":false,"zero":false},"axis":null}}}
 ]},
{"width":78,"height":221,
 "resolve":{"scale":{"x":"independent","y":"independent"}},
 "layer":[
 {"layer":[
 {"data":{"name":"viol"},"transform":[{"filter":"datum.p=='iii'&&datum.g=='7B'"}],"mark":{"type":"area","orient":"horizontal","color":"#4DBEEE","fillOpacity":0.55,"stroke":"#333","strokeWidth":0.7},
  "encoding":{"y":{"field":"v","type":"quantitative","scale":{"domain":[0,0.938],"nice":false,"zero":false},"axis":null},
  "x":{"field":"d","type":"quantitative","stack":"center","scale":{"domain":[-0.082,1.082],"nice":false,"zero":false},"axis":{"title":"7B","titlePadding":1}},"detail":{"field":"g"}}},
 {"data":{"name":"stat"},"transform":[{"filter":"datum.p=='iii'&&datum.g=='7B'"}],"mark":{"type":"rule","color":"#000","strokeWidth":1},"encoding":{"y":{"field":"lo","type":"quantitative","scale":{"domain":[0,0.938],"nice":false,"zero":false},"axis":null},"y2":{"field":"hi"}}},
 {"data":{"name":"stat"},"transform":[{"filter":"datum.p=='iii'&&datum.g=='7B'"}],"mark":{"type":"rule","color":"#000","strokeWidth":4},"encoding":{"y":{"field":"q1","type":"quantitative","scale":{"domain":[0,0.938],"nice":false,"zero":false},"axis":null},"y2":{"field":"q3"}}},
 {"data":{"name":"stat"},"transform":[{"filter":"datum.p=='iii'&&datum.g=='7B'"}],"mark":{"type":"point","filled":true,"color":"#fff","opacity":1,"size":14},"encoding":{"y":{"field":"md","type":"quantitative","scale":{"domain":[0,0.938],"nice":false,"zero":false},"axis":null}}}
 ]},
 {"layer":[
 {"data":{"values":[{}]},"mark":{"type":"square","size":6400,"fill":"#fff","stroke":"#222","strokeWidth":2,"opacity":1},"encoding":{"x":{"datum":2,"type":"quantitative","scale":{"domain":[-3.609,3.174],"nice":false,"zero":false},"axis":null},"y":{"datum":2,"type":"quantitative","scale":{"domain":[-12.652,6.565],"nice":false,"zero":false,"reverse":true},"axis":null}}},
 {"data":{"name":"grid"},"transform":[{"filter":"datum.pat=='A'"}],"mark":{"type":"square","size":132,"opacity":1,"stroke":"#cccccc","strokeWidth":0.5},"encoding":{"x":{"field":"c","type":"quantitative","scale":{"domain":[-3.609,3.174],"nice":false,"zero":false},"axis":null},"y":{"field":"r","type":"quantitative","scale":{"domain":[-12.652,6.565],"nice":false,"zero":false,"reverse":true},"axis":null},"color":{"field":"t","type":"nominal","scale":{"domain":["Control","CCI-7B","CCI","7B","sig","ns"],"range":["#0072BD","#77AC30","#D95319","#4DBEEE","#AA0A0A","#ffffff"]},"legend":null}}}
 ]}
 ]},
{"width":101,"height":10,"mark":{"type":"rule","opacity":0},"encoding":{}},
{"width":76,"height":220,
 "layer":[
 {"data":{"name":"viol"},"transform":[{"filter":"datum.p=='v'&&datum.g=='Control'"}],"mark":{"type":"area","orient":"horizontal","color":"#0072BD","fillOpacity":0.6,"stroke":"#333","strokeWidth":0.8},
  "encoding":{"y":{"field":"v","type":"quantitative","scale":{"domain":[0.1,0.8],"nice":false,"zero":false},"axis":{"values":[0.1,0.2,0.3,0.4,0.5,0.6,0.7,0.8],"tickCount":20,"labelOverlap":false,"format":"~g","title":"Modularity (Q)","titleFontSize":11,"titleColor":"#555","titlePadding":3,"labelFontSize":11,"labelColor":"#555","domain":false,"ticks":true,"tickSize":4,"tickColor":"#999","labelPadding":3}},
  "x":{"field":"d","type":"quantitative","stack":"center","scale":{"domain":[-0.527,1.527],"nice":false,"zero":false},"axis":{"title":"Control","titlePadding":3,"ticks":true,"values":[0.5],"tickSize":3,"tickColor":"#999","domain":true,"domainColor":"#999","titleFontSize":11,"titleColor":"#444"}},"detail":{"field":"g"}}},
 {"data":{"name":"stat"},"transform":[{"filter":"datum.p=='v'&&datum.g=='Control'"}],"mark":{"type":"rule","color":"#000","strokeWidth":1},"encoding":{"y":{"field":"lo","type":"quantitative","scale":{"domain":[0.1,0.8],"nice":false,"zero":false}},"y2":{"field":"hi"}}},
 {"data":{"name":"stat"},"transform":[{"filter":"datum.p=='v'&&datum.g=='Control'"}],"mark":{"type":"rule","color":"#000","strokeWidth":4},"encoding":{"y":{"field":"q1","type":"quantitative","scale":{"domain":[0.1,0.8],"nice":false,"zero":false}},"y2":{"field":"q3"}}},
 {"data":{"name":"stat"},"transform":[{"filter":"datum.p=='v'&&datum.g=='Control'"}],"mark":{"type":"point","filled":true,"color":"#fff","opacity":1,"size":14},"encoding":{"y":{"field":"md","type":"quantitative","scale":{"domain":[0.1,0.8],"nice":false,"zero":false}}}}
 ]},
{"width":76,"height":220,
 "title":{"text":"(v)","orient":"top","anchor":"middle","frame":"group","dx":42,"offset":-51,"baseline":"middle","fontSize":40,"font":"Lato","fontWeight":"normal","color":"#111"},
 "layer":[
 {"data":{"name":"viol"},"transform":[{"filter":"datum.p=='v'&&datum.g=='CCI-7B'"}],"mark":{"type":"area","orient":"horizontal","color":"#77AC30","fillOpacity":0.6,"stroke":"#333","strokeWidth":0.8},
  "encoding":{"y":{"field":"v","type":"quantitative","scale":{"domain":[0.1,0.8],"nice":false,"zero":false},"axis":null},
  "x":{"field":"d","type":"quantitative","stack":"center","scale":{"domain":[-0.309,1.309],"nice":false,"zero":false},"axis":{"title":"CCI-7B","titlePadding":3,"ticks":true,"values":[0.5],"tickSize":3,"tickColor":"#999","domain":true,"domainColor":"#999","titleFontSize":11,"titleColor":"#444"}},"detail":{"field":"g"}}},
 {"data":{"name":"stat"},"transform":[{"filter":"datum.p=='v'&&datum.g=='CCI-7B'"}],"mark":{"type":"rule","color":"#000","strokeWidth":1},"encoding":{"y":{"field":"lo","type":"quantitative","scale":{"domain":[0.1,0.8],"nice":false,"zero":false},"axis":null},"y2":{"field":"hi"}}},
 {"data":{"name":"stat"},"transform":[{"filter":"datum.p=='v'&&datum.g=='CCI-7B'"}],"mark":{"type":"rule","color":"#000","strokeWidth":4},"encoding":{"y":{"field":"q1","type":"quantitative","scale":{"domain":[0.1,0.8],"nice":false,"zero":false},"axis":null},"y2":{"field":"q3"}}},
 {"data":{"name":"stat"},"transform":[{"filter":"datum.p=='v'&&datum.g=='CCI-7B'"}],"mark":{"type":"point","filled":true,"color":"#fff","opacity":1,"size":14},"encoding":{"y":{"field":"md","type":"quantitative","scale":{"domain":[0.1,0.8],"nice":false,"zero":false},"axis":null}}}
 ]},
{"width":76,"height":220,
 "layer":[
 {"data":{"name":"viol"},"transform":[{"filter":"datum.p=='v'&&datum.g=='CCI'"}],"mark":{"type":"area","orient":"horizontal","color":"#D95319","fillOpacity":0.6,"stroke":"#333","strokeWidth":0.8},
  "encoding":{"y":{"field":"v","type":"quantitative","scale":{"domain":[0.1,0.8],"nice":false,"zero":false},"axis":null},
  "x":{"field":"d","type":"quantitative","stack":"center","scale":{"domain":[-0.309,1.309],"nice":false,"zero":false},"axis":{"title":"CCI","titlePadding":3,"ticks":true,"values":[0.5],"tickSize":3,"tickColor":"#999","domain":true,"domainColor":"#999","titleFontSize":11,"titleColor":"#444"}},"detail":{"field":"g"}}},
 {"data":{"name":"stat"},"transform":[{"filter":"datum.p=='v'&&datum.g=='CCI'"}],"mark":{"type":"rule","color":"#000","strokeWidth":1},"encoding":{"y":{"field":"lo","type":"quantitative","scale":{"domain":[0.1,0.8],"nice":false,"zero":false},"axis":null},"y2":{"field":"hi"}}},
 {"data":{"name":"stat"},"transform":[{"filter":"datum.p=='v'&&datum.g=='CCI'"}],"mark":{"type":"rule","color":"#000","strokeWidth":4},"encoding":{"y":{"field":"q1","type":"quantitative","scale":{"domain":[0.1,0.8],"nice":false,"zero":false},"axis":null},"y2":{"field":"q3"}}},
 {"data":{"name":"stat"},"transform":[{"filter":"datum.p=='v'&&datum.g=='CCI'"}],"mark":{"type":"point","filled":true,"color":"#fff","opacity":1,"size":14},"encoding":{"y":{"field":"md","type":"quantitative","scale":{"domain":[0.1,0.8],"nice":false,"zero":false},"axis":null}}}
 ]},
{"width":76,"height":220,
 "resolve":{"scale":{"x":"independent","y":"independent"}},
 "layer":[
 {"layer":[
 {"data":{"name":"viol"},"transform":[{"filter":"datum.p=='v'&&datum.g=='7B'"}],"mark":{"type":"area","orient":"horizontal","color":"#4DBEEE","fillOpacity":0.5,"stroke":"#333","strokeWidth":0.8},
  "encoding":{"y":{"field":"v","type":"quantitative","scale":{"domain":[0.1,0.8],"nice":false,"zero":false},"axis":null},
  "x":{"field":"d","type":"quantitative","stack":"center","scale":{"domain":[-0.309,1.309],"nice":false,"zero":false},"axis":{"title":"7B","titlePadding":3,"ticks":true,"values":[0.5],"tickSize":3,"tickColor":"#999","domain":true,"domainColor":"#999","titleFontSize":11,"titleColor":"#444"}},"detail":{"field":"g"}}},
 {"data":{"name":"stat"},"transform":[{"filter":"datum.p=='v'&&datum.g=='7B'"}],"mark":{"type":"rule","color":"#000","strokeWidth":1},"encoding":{"y":{"field":"lo","type":"quantitative","scale":{"domain":[0.1,0.8],"nice":false,"zero":false},"axis":null},"y2":{"field":"hi"}}},
 {"data":{"name":"stat"},"transform":[{"filter":"datum.p=='v'&&datum.g=='7B'"}],"mark":{"type":"rule","color":"#000","strokeWidth":4},"encoding":{"y":{"field":"q1","type":"quantitative","scale":{"domain":[0.1,0.8],"nice":false,"zero":false},"axis":null},"y2":{"field":"q3"}}},
 {"data":{"name":"stat"},"transform":[{"filter":"datum.p=='v'&&datum.g=='7B'"}],"mark":{"type":"point","filled":true,"color":"#fff","opacity":1,"size":14},"encoding":{"y":{"field":"md","type":"quantitative","scale":{"domain":[0.1,0.8],"nice":false,"zero":false},"axis":null}}}
 ]},
 {"layer":[
 {"data":{"values":[{}]},"mark":{"type":"square","size":6400,"fill":"#fff","stroke":"#222","strokeWidth":2,"opacity":1},"encoding":{"x":{"datum":2,"type":"quantitative","scale":{"domain":[-6.174,0.435],"nice":false,"zero":false},"axis":null},"y":{"datum":2,"type":"quantitative","scale":{"domain":[-12.696,6.435],"nice":false,"zero":false,"reverse":true},"axis":null}}},
 {"data":{"name":"grid"},"transform":[{"filter":"datum.pat=='A'"}],"mark":{"type":"square","size":132,"opacity":1,"stroke":"#cccccc","strokeWidth":0.5},"encoding":{"x":{"field":"c","type":"quantitative","scale":{"domain":[-6.174,0.435],"nice":false,"zero":false},"axis":null},"y":{"field":"r","type":"quantitative","scale":{"domain":[-12.696,6.435],"nice":false,"zero":false,"reverse":true},"axis":null},"color":{"field":"t","type":"nominal","scale":{"domain":["Control","CCI-7B","CCI","7B","sig","ns"],"range":["#0072BD","#77AC30","#D95319","#4DBEEE","#AA0A0A","#ffffff"]},"legend":null}}}
 ]}
 ]},
{"width":77,"height":214,
 "title":{"text":"Spiking Activity","orient":"left","anchor":"middle","fontSize":24,"font":"Lato","fontWeight":"normal","color":"#222","offset":20},
 "layer":[
 {"data":{"name":"viol"},"transform":[{"filter":"datum.p=='ii'&&datum.g=='Control'"}],"mark":{"type":"area","orient":"horizontal","color":"#0072BD","fillOpacity":0.55,"stroke":"#333","strokeWidth":0.7},
  "encoding":{"y":{"field":"v","type":"quantitative","scale":{"domain":[0,0.913],"nice":false,"zero":false},"axis":{"values":[0,0.1,0.2,0.3,0.4,0.5,0.6,0.7,0.8,0.9],"tickCount":20,"labelOverlap":false,"format":"~g","title":"Efficiency (F)","titleFontSize":8,"titleColor":"#aaa","titlePadding":6,"labelFontSize":8,"labelColor":"#999","domain":true,"domainColor":"#aaa","ticks":true,"tickSize":2,"tickColor":"#aaa","labelPadding":2}},
  "x":{"field":"d","type":"quantitative","stack":"center","scale":{"domain":[-0.319,1.319],"nice":false,"zero":false},"axis":{"title":"Control","titlePadding":1,"domain":true,"domainColor":"#ddd"}},"detail":{"field":"g"}}},
 {"data":{"name":"stat"},"transform":[{"filter":"datum.p=='ii'&&datum.g=='Control'"}],"mark":{"type":"rule","color":"#000","strokeWidth":1},"encoding":{"y":{"field":"lo","type":"quantitative","scale":{"domain":[0,0.913],"nice":false,"zero":false}},"y2":{"field":"hi"}}},
 {"data":{"name":"stat"},"transform":[{"filter":"datum.p=='ii'&&datum.g=='Control'"}],"mark":{"type":"rule","color":"#000","strokeWidth":4},"encoding":{"y":{"field":"q1","type":"quantitative","scale":{"domain":[0,0.913],"nice":false,"zero":false}},"y2":{"field":"q3"}}},
 {"data":{"name":"stat"},"transform":[{"filter":"datum.p=='ii'&&datum.g=='Control'"}],"mark":{"type":"point","filled":true,"color":"#fff","opacity":1,"size":14},"encoding":{"y":{"field":"md","type":"quantitative","scale":{"domain":[0,0.913],"nice":false,"zero":false}}}}
 ]},
{"width":77,"height":214,
 "title":{"text":"(ii)","orient":"top","anchor":"middle","frame":"group","dx":33,"offset":-56,"baseline":"middle","fontSize":40,"font":"Lato","fontWeight":"normal","color":"#111"},
 "layer":[
 {"data":{"name":"viol"},"transform":[{"filter":"datum.p=='ii'&&datum.g=='CCI-7B'"}],"mark":{"type":"area","orient":"horizontal","color":"#77AC30","fillOpacity":0.6,"stroke":"#333","strokeWidth":0.7},
  "encoding":{"y":{"field":"v","type":"quantitative","scale":{"domain":[0,0.913],"nice":false,"zero":false},"axis":null},
  "x":{"field":"d","type":"quantitative","stack":"center","scale":{"domain":[-0.302,1.302],"nice":false,"zero":false},"axis":{"title":"CCI-7B","titlePadding":1,"domain":true,"domainColor":"#ddd"}},"detail":{"field":"g"}}},
 {"data":{"name":"stat"},"transform":[{"filter":"datum.p=='ii'&&datum.g=='CCI-7B'"}],"mark":{"type":"rule","color":"#000","strokeWidth":1},"encoding":{"y":{"field":"lo","type":"quantitative","scale":{"domain":[0,0.913],"nice":false,"zero":false},"axis":null},"y2":{"field":"hi"}}},
 {"data":{"name":"stat"},"transform":[{"filter":"datum.p=='ii'&&datum.g=='CCI-7B'"}],"mark":{"type":"rule","color":"#000","strokeWidth":4},"encoding":{"y":{"field":"q1","type":"quantitative","scale":{"domain":[0,0.913],"nice":false,"zero":false},"axis":null},"y2":{"field":"q3"}}},
 {"data":{"name":"stat"},"transform":[{"filter":"datum.p=='ii'&&datum.g=='CCI-7B'"}],"mark":{"type":"point","filled":true,"color":"#fff","opacity":1,"size":14},"encoding":{"y":{"field":"md","type":"quantitative","scale":{"domain":[0,0.913],"nice":false,"zero":false},"axis":null}}}
 ]},
{"width":77,"height":214,
 "layer":[
 {"data":{"name":"viol"},"transform":[{"filter":"datum.p=='ii'&&datum.g=='CCI'"}],"mark":{"type":"area","orient":"horizontal","color":"#D95319","fillOpacity":0.7,"stroke":"#333","strokeWidth":0.7},
  "encoding":{"y":{"field":"v","type":"quantitative","scale":{"domain":[0,0.913],"nice":false,"zero":false},"axis":null},
  "x":{"field":"d","type":"quantitative","stack":"center","scale":{"domain":[-0.356,1.356],"nice":false,"zero":false},"axis":{"title":"CCI","titlePadding":1,"domain":true,"domainColor":"#ddd"}},"detail":{"field":"g"}}},
 {"data":{"name":"stat"},"transform":[{"filter":"datum.p=='ii'&&datum.g=='CCI'"}],"mark":{"type":"rule","color":"#000","strokeWidth":1},"encoding":{"y":{"field":"lo","type":"quantitative","scale":{"domain":[0,0.913],"nice":false,"zero":false},"axis":null},"y2":{"field":"hi"}}},
 {"data":{"name":"stat"},"transform":[{"filter":"datum.p=='ii'&&datum.g=='CCI'"}],"mark":{"type":"rule","color":"#000","strokeWidth":4},"encoding":{"y":{"field":"q1","type":"quantitative","scale":{"domain":[0,0.913],"nice":false,"zero":false},"axis":null},"y2":{"field":"q3"}}},
 {"data":{"name":"stat"},"transform":[{"filter":"datum.p=='ii'&&datum.g=='CCI'"}],"mark":{"type":"point","filled":true,"color":"#fff","opacity":1,"size":14},"encoding":{"y":{"field":"md","type":"quantitative","scale":{"domain":[0,0.913],"nice":false,"zero":false},"axis":null}}}
 ]},
{"width":77,"height":214,
 "resolve":{"scale":{"x":"independent","y":"independent"}},
 "layer":[
 {"layer":[
 {"data":{"name":"viol"},"transform":[{"filter":"datum.p=='ii'&&datum.g=='7B'"}],"mark":{"type":"area","orient":"horizontal","color":"#4DBEEE","fillOpacity":0.55,"stroke":"#333","strokeWidth":0.7},
  "encoding":{"y":{"field":"v","type":"quantitative","scale":{"domain":[0,0.913],"nice":false,"zero":false},"axis":null},
  "x":{"field":"d","type":"quantitative","stack":"center","scale":{"domain":[-0.356,1.356],"nice":false,"zero":false},"axis":{"title":"7B","titlePadding":1,"domain":true,"domainColor":"#ddd"}},"detail":{"field":"g"}}},
 {"data":{"name":"stat"},"transform":[{"filter":"datum.p=='ii'&&datum.g=='7B'"}],"mark":{"type":"rule","color":"#000","strokeWidth":1},"encoding":{"y":{"field":"lo","type":"quantitative","scale":{"domain":[0,0.913],"nice":false,"zero":false},"axis":null},"y2":{"field":"hi"}}},
 {"data":{"name":"stat"},"transform":[{"filter":"datum.p=='ii'&&datum.g=='7B'"}],"mark":{"type":"rule","color":"#000","strokeWidth":4},"encoding":{"y":{"field":"q1","type":"quantitative","scale":{"domain":[0,0.913],"nice":false,"zero":false},"axis":null},"y2":{"field":"q3"}}},
 {"data":{"name":"stat"},"transform":[{"filter":"datum.p=='ii'&&datum.g=='7B'"}],"mark":{"type":"point","filled":true,"color":"#fff","opacity":1,"size":14},"encoding":{"y":{"field":"md","type":"quantitative","scale":{"domain":[0,0.913],"nice":false,"zero":false},"axis":null}}}
 ]},
 {"layer":[
 {"data":{"values":[{}]},"mark":{"type":"square","size":6400,"fill":"#fff","stroke":"#222","strokeWidth":2,"opacity":1},"encoding":{"x":{"datum":2,"type":"quantitative","scale":{"domain":[-4.348,2.348],"nice":false,"zero":false},"axis":null},"y":{"datum":2,"type":"quantitative","scale":{"domain":[-12.435,6.174],"nice":false,"zero":false,"reverse":true},"axis":null}}},
 {"data":{"name":"grid"},"transform":[{"filter":"datum.pat=='A'"}],"mark":{"type":"square","size":132,"opacity":1,"stroke":"#cccccc","strokeWidth":0.5},"encoding":{"x":{"field":"c","type":"quantitative","scale":{"domain":[-4.348,2.348],"nice":false,"zero":false},"axis":null},"y":{"field":"r","type":"quantitative","scale":{"domain":[-12.435,6.174],"nice":false,"zero":false,"reverse":true},"axis":null},"color":{"field":"t","type":"nominal","scale":{"domain":["Control","CCI-7B","CCI","7B","sig","ns"],"range":["#0072BD","#77AC30","#D95319","#4DBEEE","#AA0A0A","#ffffff"]},"legend":null}}}
 ]}
 ]},
{"width":104,"height":10,"mark":{"type":"rule","opacity":0},"encoding":{}},
{"width":78,"height":211,
 "layer":[
 {"data":{"name":"viol"},"transform":[{"filter":"datum.p=='iv'&&datum.g=='Control'"}],"mark":{"type":"area","orient":"horizontal","color":"#0072BD","fillOpacity":0.95,"stroke":"#333","strokeWidth":0.7},
  "encoding":{"y":{"field":"v","type":"quantitative","scale":{"domain":[0,0.922],"nice":false,"zero":false},"axis":{"values":[0,0.1,0.2,0.3,0.4,0.5,0.6,0.7,0.8,0.9],"tickCount":20,"labelOverlap":false,"format":"~g","title":"Clustering Coefficient (C)","titleFontSize":9,"titleColor":"#777","titlePadding":2,"labelFontSize":8,"labelColor":"#888","domain":false,"ticks":true,"tickSize":4,"tickColor":"#aaa","labelPadding":2}},
  "x":{"field":"d","type":"quantitative","stack":"center","scale":{"domain":[-0.33,1.33],"nice":false,"zero":false},"axis":{"title":"Control","titlePadding":1,"domain":true,"domainColor":"#ddd"}},"detail":{"field":"g"}}},
 {"data":{"name":"stat"},"transform":[{"filter":"datum.p=='iv'&&datum.g=='Control'"}],"mark":{"type":"rule","color":"#000","strokeWidth":1},"encoding":{"y":{"field":"lo","type":"quantitative","scale":{"domain":[0,0.922],"nice":false,"zero":false}},"y2":{"field":"hi"}}},
 {"data":{"name":"stat"},"transform":[{"filter":"datum.p=='iv'&&datum.g=='Control'"}],"mark":{"type":"rule","color":"#000","strokeWidth":4},"encoding":{"y":{"field":"q1","type":"quantitative","scale":{"domain":[0,0.922],"nice":false,"zero":false}},"y2":{"field":"q3"}}},
 {"data":{"name":"stat"},"transform":[{"filter":"datum.p=='iv'&&datum.g=='Control'"}],"mark":{"type":"point","filled":true,"color":"#fff","opacity":1,"size":14},"encoding":{"y":{"field":"md","type":"quantitative","scale":{"domain":[0,0.922],"nice":false,"zero":false}}}}
 ]},
{"width":78,"height":211,
 "title":{"text":"(iv)","orient":"top","anchor":"middle","frame":"group","dx":43,"offset":-51,"baseline":"middle","fontSize":40,"font":"Lato","fontWeight":"normal","color":"#111"},
 "layer":[
 {"data":{"name":"viol"},"transform":[{"filter":"datum.p=='iv'&&datum.g=='CCI-7B'"}],"mark":{"type":"area","orient":"horizontal","color":"#77AC30","fillOpacity":0.9,"stroke":"#333","strokeWidth":0.7},
  "encoding":{"y":{"field":"v","type":"quantitative","scale":{"domain":[0,0.922],"nice":false,"zero":false},"axis":null},
  "x":{"field":"d","type":"quantitative","stack":"center","scale":{"domain":[-0.236,1.236],"nice":false,"zero":false},"axis":{"title":"CCI-7B","titlePadding":1,"domain":true,"domainColor":"#ddd"}},"detail":{"field":"g"}}},
 {"data":{"name":"stat"},"transform":[{"filter":"datum.p=='iv'&&datum.g=='CCI-7B'"}],"mark":{"type":"rule","color":"#000","strokeWidth":1},"encoding":{"y":{"field":"lo","type":"quantitative","scale":{"domain":[0,0.922],"nice":false,"zero":false},"axis":null},"y2":{"field":"hi"}}},
 {"data":{"name":"stat"},"transform":[{"filter":"datum.p=='iv'&&datum.g=='CCI-7B'"}],"mark":{"type":"rule","color":"#000","strokeWidth":4},"encoding":{"y":{"field":"q1","type":"quantitative","scale":{"domain":[0,0.922],"nice":false,"zero":false},"axis":null},"y2":{"field":"q3"}}},
 {"data":{"name":"stat"},"transform":[{"filter":"datum.p=='iv'&&datum.g=='CCI-7B'"}],"mark":{"type":"point","filled":true,"color":"#fff","opacity":1,"size":14},"encoding":{"y":{"field":"md","type":"quantitative","scale":{"domain":[0,0.922],"nice":false,"zero":false},"axis":null}}}
 ]},
{"width":78,"height":211,
 "layer":[
 {"data":{"name":"viol"},"transform":[{"filter":"datum.p=='iv'&&datum.g=='CCI'"}],"mark":{"type":"area","orient":"horizontal","color":"#D95319","fillOpacity":0.65,"stroke":"#333","strokeWidth":0.7},
  "encoding":{"y":{"field":"v","type":"quantitative","scale":{"domain":[0,0.922],"nice":false,"zero":false},"axis":null},
  "x":{"field":"d","type":"quantitative","stack":"center","scale":{"domain":[-0.367,1.367],"nice":false,"zero":false},"axis":{"title":"CCI","titlePadding":1,"domain":true,"domainColor":"#ddd"}},"detail":{"field":"g"}}},
 {"data":{"name":"stat"},"transform":[{"filter":"datum.p=='iv'&&datum.g=='CCI'"}],"mark":{"type":"rule","color":"#000","strokeWidth":1},"encoding":{"y":{"field":"lo","type":"quantitative","scale":{"domain":[0,0.922],"nice":false,"zero":false},"axis":null},"y2":{"field":"hi"}}},
 {"data":{"name":"stat"},"transform":[{"filter":"datum.p=='iv'&&datum.g=='CCI'"}],"mark":{"type":"rule","color":"#000","strokeWidth":4},"encoding":{"y":{"field":"q1","type":"quantitative","scale":{"domain":[0,0.922],"nice":false,"zero":false},"axis":null},"y2":{"field":"q3"}}},
 {"data":{"name":"stat"},"transform":[{"filter":"datum.p=='iv'&&datum.g=='CCI'"}],"mark":{"type":"point","filled":true,"color":"#fff","opacity":1,"size":14},"encoding":{"y":{"field":"md","type":"quantitative","scale":{"domain":[0,0.922],"nice":false,"zero":false},"axis":null}}}
 ]},
{"width":78,"height":211,
 "resolve":{"scale":{"x":"independent","y":"independent"}},
 "layer":[
 {"layer":[
 {"data":{"name":"viol"},"transform":[{"filter":"datum.p=='iv'&&datum.g=='7B'"}],"mark":{"type":"area","orient":"horizontal","color":"#4DBEEE","fillOpacity":0.45,"stroke":"#333","strokeWidth":0.7},
  "encoding":{"y":{"field":"v","type":"quantitative","scale":{"domain":[0,0.922],"nice":false,"zero":false},"axis":null},
  "x":{"field":"d","type":"quantitative","stack":"center","scale":{"domain":[-0.614,1.614],"nice":false,"zero":false},"axis":{"title":"7B","titlePadding":1,"domain":true,"domainColor":"#ddd"}},"detail":{"field":"g"}}},
 {"data":{"name":"stat"},"transform":[{"filter":"datum.p=='iv'&&datum.g=='7B'"}],"mark":{"type":"rule","color":"#000","strokeWidth":1},"encoding":{"y":{"field":"lo","type":"quantitative","scale":{"domain":[0,0.922],"nice":false,"zero":false},"axis":null},"y2":{"field":"hi"}}},
 {"data":{"name":"stat"},"transform":[{"filter":"datum.p=='iv'&&datum.g=='7B'"}],"mark":{"type":"rule","color":"#000","strokeWidth":4},"encoding":{"y":{"field":"q1","type":"quantitative","scale":{"domain":[0,0.922],"nice":false,"zero":false},"axis":null},"y2":{"field":"q3"}}},
 {"data":{"name":"stat"},"transform":[{"filter":"datum.p=='iv'&&datum.g=='7B'"}],"mark":{"type":"point","filled":true,"color":"#fff","opacity":1,"size":14},"encoding":{"y":{"field":"md","type":"quantitative","scale":{"domain":[0,0.922],"nice":false,"zero":false},"axis":null}}}
 ]},
 {"layer":[
 {"data":{"values":[{}]},"mark":{"type":"square","size":6400,"fill":"#fff","stroke":"#222","strokeWidth":2,"opacity":1},"encoding":{"x":{"datum":2,"type":"quantitative","scale":{"domain":[-3.609,3.174],"nice":false,"zero":false},"axis":null},"y":{"datum":2,"type":"quantitative","scale":{"domain":[-12.826,5.522],"nice":false,"zero":false,"reverse":true},"axis":null}}},
 {"data":{"name":"grid"},"transform":[{"filter":"datum.pat=='A'"}],"mark":{"type":"square","size":132,"opacity":1,"stroke":"#cccccc","strokeWidth":0.5},"encoding":{"x":{"field":"c","type":"quantitative","scale":{"domain":[-3.609,3.174],"nice":false,"zero":false},"axis":null},"y":{"field":"r","type":"quantitative","scale":{"domain":[-12.826,5.522],"nice":false,"zero":false,"reverse":true},"axis":null},"color":{"field":"t","type":"nominal","scale":{"domain":["Control","CCI-7B","CCI","7B","sig","ns"],"range":["#0072BD","#77AC30","#D95319","#4DBEEE","#AA0A0A","#ffffff"]},"legend":null}}}
 ]}
 ]},
{"width":101,"height":10,"mark":{"type":"rule","opacity":0},"encoding":{}},
{"width":76,"height":220,
 "layer":[
 {"data":{"name":"viol"},"transform":[{"filter":"datum.p=='vi'&&datum.g=='Control'"}],"mark":{"type":"area","orient":"horizontal","color":"#0072BD","fillOpacity":0.85,"stroke":"#333","strokeWidth":0.8},
  "encoding":{"y":{"field":"v","type":"quantitative","scale":{"domain":[0.1,0.8],"nice":false,"zero":false},"axis":{"values":[0.1,0.2,0.3,0.4,0.5,0.6,0.7,0.8],"tickCount":20,"labelOverlap":false,"format":"~g","title":"Modularity (Q)","titleFontSize":11,"titleColor":"#555","titlePadding":3,"labelFontSize":11,"labelColor":"#555","domain":false,"ticks":true,"tickSize":4,"tickColor":"#999","labelPadding":3}},
  "x":{"field":"d","type":"quantitative","stack":"center","scale":{"domain":[-0.309,1.309],"nice":false,"zero":false},"axis":{"title":"Control","titlePadding":3,"ticks":true,"values":[0.5],"tickSize":3,"tickColor":"#999","domain":true,"domainColor":"#999","titleFontSize":11,"titleColor":"#444"}},"detail":{"field":"g"}}},
 {"data":{"name":"stat"},"transform":[{"filter":"datum.p=='vi'&&datum.g=='Control'"}],"mark":{"type":"rule","color":"#000","strokeWidth":1},"encoding":{"y":{"field":"lo","type":"quantitative","scale":{"domain":[0.1,0.8],"nice":false,"zero":false}},"y2":{"field":"hi"}}},
 {"data":{"name":"stat"},"transform":[{"filter":"datum.p=='vi'&&datum.g=='Control'"}],"mark":{"type":"rule","color":"#000","strokeWidth":4},"encoding":{"y":{"field":"q1","type":"quantitative","scale":{"domain":[0.1,0.8],"nice":false,"zero":false}},"y2":{"field":"q3"}}},
 {"data":{"name":"stat"},"transform":[{"filter":"datum.p=='vi'&&datum.g=='Control'"}],"mark":{"type":"point","filled":true,"color":"#fff","opacity":1,"size":14},"encoding":{"y":{"field":"md","type":"quantitative","scale":{"domain":[0.1,0.8],"nice":false,"zero":false}}}}
 ]},
{"width":76,"height":220,
 "title":{"text":"(vi)","orient":"top","anchor":"middle","frame":"group","dx":41,"offset":-52,"baseline":"middle","fontSize":40,"font":"Lato","fontWeight":"normal","color":"#111"},
 "layer":[
 {"data":{"name":"viol"},"transform":[{"filter":"datum.p=='vi'&&datum.g=='CCI-7B'"}],"mark":{"type":"area","orient":"horizontal","color":"#77AC30","fillOpacity":0.75,"stroke":"#333","strokeWidth":0.8},
  "encoding":{"y":{"field":"v","type":"quantitative","scale":{"domain":[0.1,0.8],"nice":false,"zero":false},"axis":null},
  "x":{"field":"d","type":"quantitative","stack":"center","scale":{"domain":[-0.344,1.344],"nice":false,"zero":false},"axis":{"title":"CCI-7B","titlePadding":3,"ticks":true,"values":[0.5],"tickSize":3,"tickColor":"#999","domain":true,"domainColor":"#999","titleFontSize":11,"titleColor":"#444"}},"detail":{"field":"g"}}},
 {"data":{"name":"stat"},"transform":[{"filter":"datum.p=='vi'&&datum.g=='CCI-7B'"}],"mark":{"type":"rule","color":"#000","strokeWidth":1},"encoding":{"y":{"field":"lo","type":"quantitative","scale":{"domain":[0.1,0.8],"nice":false,"zero":false},"axis":null},"y2":{"field":"hi"}}},
 {"data":{"name":"stat"},"transform":[{"filter":"datum.p=='vi'&&datum.g=='CCI-7B'"}],"mark":{"type":"rule","color":"#000","strokeWidth":4},"encoding":{"y":{"field":"q1","type":"quantitative","scale":{"domain":[0.1,0.8],"nice":false,"zero":false},"axis":null},"y2":{"field":"q3"}}},
 {"data":{"name":"stat"},"transform":[{"filter":"datum.p=='vi'&&datum.g=='CCI-7B'"}],"mark":{"type":"point","filled":true,"color":"#fff","opacity":1,"size":14},"encoding":{"y":{"field":"md","type":"quantitative","scale":{"domain":[0.1,0.8],"nice":false,"zero":false},"axis":null}}}
 ]},
{"width":76,"height":220,
 "layer":[
 {"data":{"name":"viol"},"transform":[{"filter":"datum.p=='vi'&&datum.g=='CCI'"}],"mark":{"type":"area","orient":"horizontal","color":"#D95319","fillOpacity":0.8,"stroke":"#333","strokeWidth":0.8},
  "encoding":{"y":{"field":"v","type":"quantitative","scale":{"domain":[0.1,0.8],"nice":false,"zero":false},"axis":null},
  "x":{"field":"d","type":"quantitative","stack":"center","scale":{"domain":[-0.309,1.309],"nice":false,"zero":false},"axis":{"title":"CCI","titlePadding":3,"ticks":true,"values":[0.5],"tickSize":3,"tickColor":"#999","domain":true,"domainColor":"#999","titleFontSize":11,"titleColor":"#444"}},"detail":{"field":"g"}}},
 {"data":{"name":"stat"},"transform":[{"filter":"datum.p=='vi'&&datum.g=='CCI'"}],"mark":{"type":"rule","color":"#000","strokeWidth":1},"encoding":{"y":{"field":"lo","type":"quantitative","scale":{"domain":[0.1,0.8],"nice":false,"zero":false},"axis":null},"y2":{"field":"hi"}}},
 {"data":{"name":"stat"},"transform":[{"filter":"datum.p=='vi'&&datum.g=='CCI'"}],"mark":{"type":"rule","color":"#000","strokeWidth":4},"encoding":{"y":{"field":"q1","type":"quantitative","scale":{"domain":[0.1,0.8],"nice":false,"zero":false},"axis":null},"y2":{"field":"q3"}}},
 {"data":{"name":"stat"},"transform":[{"filter":"datum.p=='vi'&&datum.g=='CCI'"}],"mark":{"type":"point","filled":true,"color":"#fff","opacity":1,"size":14},"encoding":{"y":{"field":"md","type":"quantitative","scale":{"domain":[0.1,0.8],"nice":false,"zero":false},"axis":null}}}
 ]},
{"width":76,"height":220,
 "resolve":{"scale":{"x":"independent","y":"independent"}},
 "layer":[
 {"layer":[
 {"data":{"name":"viol"},"transform":[{"filter":"datum.p=='vi'&&datum.g=='7B'"}],"mark":{"type":"area","orient":"horizontal","color":"#4DBEEE","fillOpacity":0.6,"stroke":"#333","strokeWidth":0.8},
  "encoding":{"y":{"field":"v","type":"quantitative","scale":{"domain":[0.1,0.8],"nice":false,"zero":false},"axis":null},
  "x":{"field":"d","type":"quantitative","stack":"center","scale":{"domain":[-0.309,1.309],"nice":false,"zero":false},"axis":{"title":"7B","titlePadding":3,"ticks":true,"values":[0.5],"tickSize":3,"tickColor":"#999","domain":true,"domainColor":"#999","titleFontSize":11,"titleColor":"#444"}},"detail":{"field":"g"}}},
 {"data":{"name":"stat"},"transform":[{"filter":"datum.p=='vi'&&datum.g=='7B'"}],"mark":{"type":"rule","color":"#000","strokeWidth":1},"encoding":{"y":{"field":"lo","type":"quantitative","scale":{"domain":[0.1,0.8],"nice":false,"zero":false},"axis":null},"y2":{"field":"hi"}}},
 {"data":{"name":"stat"},"transform":[{"filter":"datum.p=='vi'&&datum.g=='7B'"}],"mark":{"type":"rule","color":"#000","strokeWidth":4},"encoding":{"y":{"field":"q1","type":"quantitative","scale":{"domain":[0.1,0.8],"nice":false,"zero":false},"axis":null},"y2":{"field":"q3"}}},
 {"data":{"name":"stat"},"transform":[{"filter":"datum.p=='vi'&&datum.g=='7B'"}],"mark":{"type":"point","filled":true,"color":"#fff","opacity":1,"size":14},"encoding":{"y":{"field":"md","type":"quantitative","scale":{"domain":[0.1,0.8],"nice":false,"zero":false},"axis":null}}}
 ]},
 {"layer":[
 {"data":{"values":[{}]},"mark":{"type":"square","size":6400,"fill":"#fff","stroke":"#222","strokeWidth":2,"opacity":1},"encoding":{"x":{"datum":2,"type":"quantitative","scale":{"domain":[-6.174,0.435],"nice":false,"zero":false},"axis":null},"y":{"datum":2,"type":"quantitative","scale":{"domain":[-12.826,6.304],"nice":false,"zero":false,"reverse":true},"axis":null}}},
 {"data":{"name":"grid"},"transform":[{"filter":"datum.pat=='A'"}],"mark":{"type":"square","size":132,"opacity":1,"stroke":"#cccccc","strokeWidth":0.5},"encoding":{"x":{"field":"c","type":"quantitative","scale":{"domain":[-6.174,0.435],"nice":false,"zero":false},"axis":null},"y":{"field":"r","type":"quantitative","scale":{"domain":[-12.826,6.304],"nice":false,"zero":false,"reverse":true},"axis":null},"color":{"field":"t","type":"nominal","scale":{"domain":["Control","CCI-7B","CCI","7B","sig","ns"],"range":["#0072BD","#77AC30","#D95319","#4DBEEE","#AA0A0A","#ffffff"]},"legend":null}}}
 ]}
 ]}
]
}
